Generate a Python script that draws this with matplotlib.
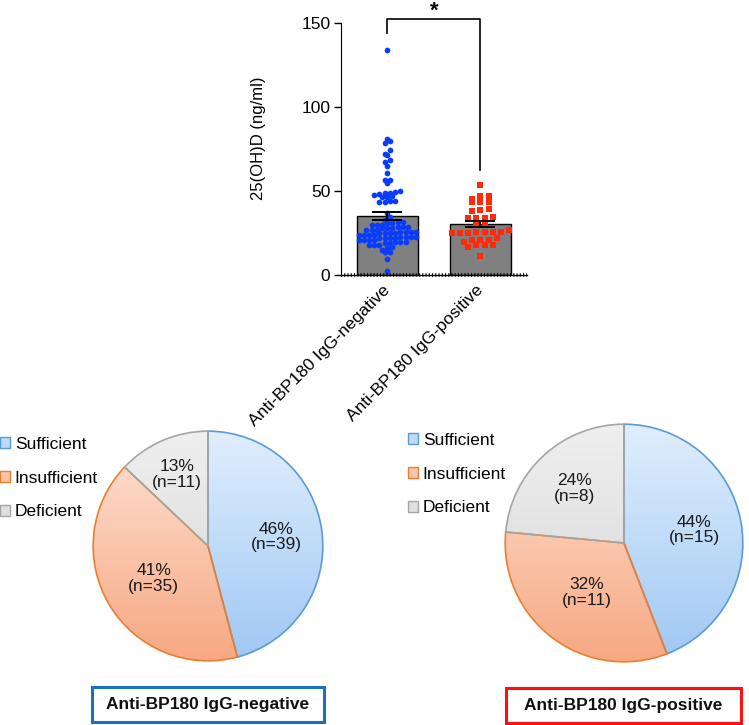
import numpy as np
import matplotlib
matplotlib.use("Agg")
import matplotlib.pyplot as plt
from matplotlib.colors import LinearSegmentedColormap
from matplotlib.patches import Patch, Rectangle

plt.rcParams["font.family"] = ["Liberation Sans", "DejaVu Sans"]

# --- data ---
groups = ["Anti-BP180 IgG-negative", "Anti-BP180 IgG-positive"]

neg_values = [
    134, 81, 80, 79, 74.5, 72, 71.5, 68.5, 67.5, 65, 61, 57, 57, 55,
    50, 49.5, 49, 49, 48.5, 48, 47, 46.5, 46.5, 44, 44, 43.5, 43.5,
    37, 35, 33, 32, 32, 31, 31, 30, 30, 30, 29, 29, 29, 28, 28, 28,
    27, 27, 27, 26, 26, 26, 26, 25, 25, 25, 25, 24, 24, 24, 24,
    23, 23, 23, 23, 22, 22, 22, 22, 21, 21, 21, 21, 20, 20, 20,
    19, 19, 18, 18, 17, 16, 15, 14, 18, 14, 9.5, 2.8,
]
pos_values = [
    54, 47, 47, 45.5, 43.5, 43.5, 43.5, 39.5, 39, 38.5, 35, 34, 34, 34,
    31, 30, 27, 26, 25.5, 25.5, 25.5, 25, 25, 25, 22, 21, 21, 21, 20,
    18, 18, 18, 17, 11.5,
]

status = ["Sufficient", "Insufficient", "Deficient"]
neg_counts = [39, 35, 11]
pos_counts = [15, 11, 8]

W, H = 749, 725


def fig_box(x0, y0, x1, y1):
    # pixel box (top-left origin) -> figure fraction rect
    return [x0 / W, 1 - y1 / H, (x1 - x0) / W, (y1 - y0) / H]


def swarm_offsets(values, row_h, step):
    vals = np.asarray(values, dtype=float)
    bins = np.floor(vals / row_h).astype(int)
    offs = np.zeros(len(vals))
    for b in np.unique(bins):
        idx = np.where(bins == b)[0]
        idx = idx[np.argsort(vals[idx])]
        n = len(idx)
        offs[idx] = (np.arange(n) - (n - 1) / 2) * step
    return offs


def gradient_pie(ax, counts, tops, bottoms, edges, dists):
    total = sum(counts)
    wedges, _ = ax.pie(counts, startangle=90, counterclock=False, radius=1,
                       wedgeprops=dict(linewidth=1.2))
    grad = np.linspace(0, 1, 256).reshape(-1, 1)
    for w, top, bot, ec, c, d in zip(wedges, tops, bottoms, edges, counts, dists):
        cmap = LinearSegmentedColormap.from_list("g", [bot, top])
        im = ax.imshow(grad, extent=(-1, 1, -1, 1), origin="lower", cmap=cmap,
                       aspect="auto", zorder=0)
        im.set_clip_path(w)
        w.set_facecolor("none")
        w.set_edgecolor(ec)
        w.set_zorder(2)
        mid = np.deg2rad((w.theta1 + w.theta2) / 2)
        ax.text(d * np.cos(mid), d * np.sin(mid),
                f"{round(100 * c / total)}%\n(n={c})",
                ha="center", va="center", fontsize=12.5, color="#1a1a1a",
                linespacing=1.05, zorder=3)
    ax.set_xlim(-1.01, 1.01)
    ax.set_ylim(-1.01, 1.01)
    ax.set_aspect("equal")
    ax.axis("off")


fig = plt.figure(figsize=(W / 100, H / 100), dpi=100)

# --- bar + scatter panel ---
ax = fig.add_axes(fig_box(340.7, 23.3, 527, 275.3))
x = np.arange(len(groups))
means = [np.mean(neg_values), np.mean(pos_values)]
sems = [np.std(v, ddof=1) / np.sqrt(len(v)) for v in (neg_values, pos_values)]

ax.bar(x, means, width=0.66, color="#808080", edgecolor="black", linewidth=1, zorder=1)
ax.scatter(x[0] + swarm_offsets(neg_values, 3.0, 0.056), neg_values, s=17,
           color="#0a3cff", marker="o", linewidths=0, zorder=2, clip_on=False)
ax.scatter(x[1] + swarm_offsets(pos_values, 4.0, 0.088), pos_values, s=19,
           color="#ff2a0a", marker="s", linewidths=0, zorder=2, clip_on=False)
ax.errorbar(x, means, yerr=sems, fmt="none", ecolor="black", elinewidth=1.4,
            capsize=11, capthick=1.4, zorder=3)

ax.set_xlim(-0.5, 1.5)
ax.set_ylim(0, 150)
ax.set_yticks([0, 50, 100, 150])
ax.tick_params(axis="y", labelsize=12.5, length=5, width=1, pad=2.5)
ax.set_xticks(x)
ax.set_xticklabels(groups, rotation=45, ha="right", va="center",
                   rotation_mode="anchor", fontsize=12.5)
ax.tick_params(axis="x", length=0, pad=9)
ax.set_ylabel("25(OH)D (ng/ml)", fontsize=12)
ax.yaxis.set_label_coords(-0.40, 0.543)
for side in ("top", "right"):
    ax.spines[side].set_visible(False)
ax.spines["bottom"].set_linewidth(1.0)
# ruler-like dotted baseline
ax.axhline(0, color="black", lw=2.6, linestyle=(0, (0.3, 0.6)), clip_on=False, zorder=4)

# significance bracket
ax.plot([0, 0, 1, 1], [144, 152.5, 152.5, 62.5], color="black", lw=1.2, clip_on=False)
ax.text(0.5, 157, "*", ha="center", va="center", fontsize=16, fontweight="bold")

# --- pies ---
tops = ["#e0eefd", "#fde3d5", "#efefef"]
bottoms = ["#9fc8f4", "#f7a882", "#d5d5d5"]
edges = ["#5b9bd5", "#ed7d31", "#a5a5a5"]
mids = ["#bcd9f8", "#fac4a8", "#e0e0e0"]

ax_l = fig.add_axes(fig_box(92, 430, 324, 662))
gradient_pie(ax_l, neg_counts, tops, bottoms, edges, [0.6, 0.55, 0.68])
ax_r = fig.add_axes(fig_box(504, 423, 744, 663))
gradient_pie(ax_r, pos_counts, tops, bottoms, edges, [0.6, 0.52, 0.62])

handles = [Patch(facecolor=m, edgecolor=e, linewidth=1) for m, e in zip(mids, edges)]
for anchor in ((0 / W, 1 - 437 / H), (408 / W, 1 - 433 / H)):
    fig.legend(handles, status, loc="upper left", bbox_to_anchor=anchor,
               frameon=False, fontsize=12.5, borderpad=0, borderaxespad=0,
               handlelength=0.6, handleheight=0.6, handletextpad=0.25,
               labelspacing=1.07)

# --- group boxes ---
for (x0, y0, x1, y1), label, col in (
    ((92, 687, 324, 722), groups[0], "#1f6fc0"),
    ((506, 688, 741, 723), groups[1], "#ff1010"),
):
    fig.add_artist(Rectangle((x0 / W, 1 - y1 / H), (x1 - x0) / W, (y1 - y0) / H,
                             transform=fig.transFigure, fill=False,
                             edgecolor=col, linewidth=2.2))
    fig.text((x0 + x1) / 2 / W, 1 - (y0 + y1) / 2 / H, label, ha="center",
             va="center", fontsize=12.5, fontweight="bold", color="#111111")

fig.savefig("out.png", dpi=100)
